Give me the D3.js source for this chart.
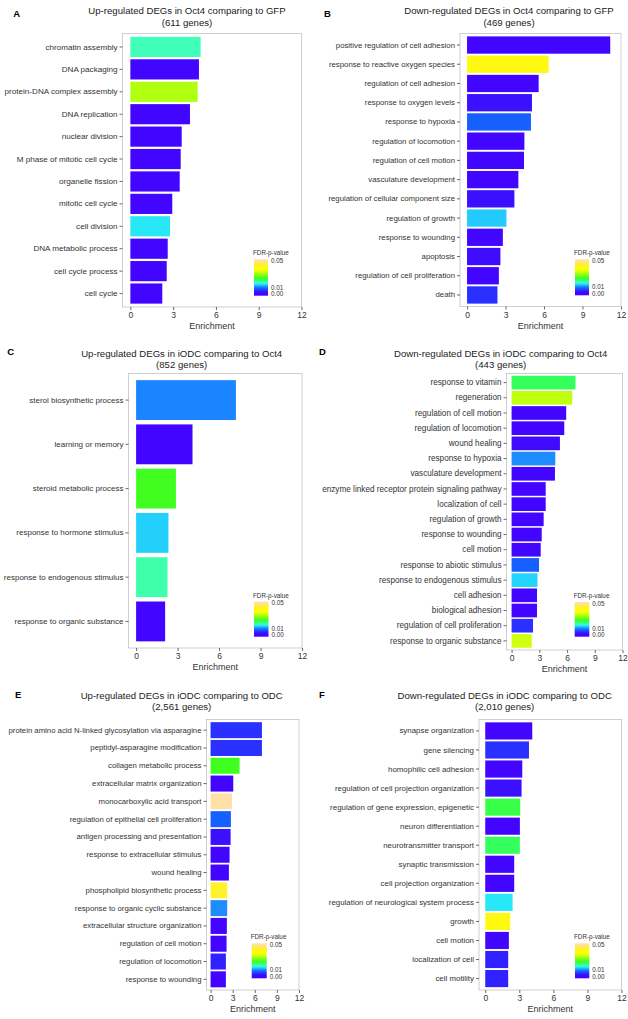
<!DOCTYPE html>
<html><head><meta charset="utf-8">
<script src="https://cdn.jsdelivr.net/npm/d3@7/dist/d3.min.js"></script>
<style>
body{margin:0;background:#fff}
svg{display:block;font-family:"Liberation Sans",Arial,sans-serif}
</style>
</head><body>
<svg id="chart" width="628" height="1019"></svg>
<script>
// ---------------- DATA ----------------
const termsA = ["chromatin assembly","DNA packaging","protein-DNA complex assembly","DNA replication","nuclear division","M phase of mitotic cell cycle","organelle fission","mitotic cell cycle","cell division","DNA metabolic process","cell cycle process","cell cycle"];
const enrichA = [4.93,4.81,4.72,4.18,3.60,3.53,3.46,2.94,2.78,2.62,2.55,2.24];
const fdrA = [0.017,0.001,0.031,0.001,0.001,0.001,0.001,0.001,0.015,0.001,0.001,0.001];
const titleA = ["Up-regulated DEGs in Oct4 comparing to GFP","(611 genes)"];

const termsB = ["positive regulation of cell adhesion","response to reactive oxygen species","regulation of cell adhesion","response to oxygen levels","response to hypoxia","regulation of locomotion","regulation of cell motion","vasculature development","regulation of cellular component size","regulation of growth","response to wounding","apoptosis","regulation of cell proliferation","death"];
const enrichB = [11.16,6.36,5.58,5.06,4.98,4.47,4.44,4.00,3.69,3.07,2.79,2.60,2.48,2.37];
const fdrB = [0.001,0.040,0.001,0.003,0.008,0.001,0.001,0.001,0.003,0.0135,0.001,0.002,0.001,0.005];
const titleB = ["Down-regulated DEGs in Oct4 comparing to GFP","(469 genes)"];

const termsC = ["sterol biosynthetic process","learning or memory","steroid metabolic process","response to hormone stimulus","response to endogenous stimulus","response to organic substance"];
const enrichC = [7.22,4.08,2.88,2.34,2.27,2.10];
const fdrC = [0.0105,0.001,0.024,0.0138,0.0175,0.001];
const titleC = ["Up-regulated DEGs in iODC comparing to Oct4","(852 genes)"];

const termsD = ["response to vitamin","regeneration","regulation of cell motion","regulation of locomotion","wound healing","response to hypoxia","vasculature development","enzyme linked receptor protein signaling pathway","localization of cell","regulation of growth","response to wounding","cell motion","response to abiotic stimulus","response to endogenous stimulus","cell adhesion","biological adhesion","regulation of cell proliferation","response to organic substance"];
const enrichD = [6.91,6.56,5.91,5.70,5.23,4.73,4.69,3.69,3.69,3.47,3.26,3.15,2.97,2.80,2.75,2.75,2.32,2.18];
const fdrD = [0.021,0.032,0.001,0.001,0.002,0.011,0.001,0.001,0.001,0.001,0.001,0.001,0.008,0.014,0.001,0.001,0.005,0.033];
const titleD = ["Down-regulated DEGs in iODC comparing to Oct4","(443 genes)"];

const termsE = ["protein amino acid N-linked glycosylation via asparagine","peptidyl-asparagine modification","collagen metabolic process","extracellular matrix organization","monocarboxylic acid transport","regulation of epithelial cell proliferation","antigen processing and presentation","response to extracellular stimulus","wound healing","phospholipid biosynthetic process","response to organic cyclic substance","extracellular structure organization","regulation of cell motion","regulation of locomotion","response to wounding"];
const enrichE = [6.97,6.97,3.94,3.08,2.90,2.76,2.72,2.58,2.49,2.26,2.26,2.21,2.17,2.08,2.08];
const fdrE = [0.005,0.005,0.024,0.001,0.050,0.008,0.003,0.001,0.001,0.044,0.011,0.001,0.001,0.004,0.001];
const titleE = ["Up-regulated DEGs in iODC comparing to ODC","(2,561 genes)"];

const termsF = ["synapse organization","gene silencing","homophilic cell adhesion","regulation of cell projection organization","regulation of gene expression, epigenetic","neuron differentiation","neurotransmitter transport","synaptic transmission","cell projection organization","regulation of neurological system process","growth","cell motion","localization of cell","cell motility"];
const enrichF = [4.14,3.85,3.26,3.20,3.08,3.05,3.05,2.55,2.55,2.41,2.20,2.08,2.02,2.02];
const fdrF = [0.001,0.005,0.001,0.003,0.022,0.001,0.021,0.001,0.001,0.015,0.040,0.001,0.004,0.004];
const titleF = ["Down-regulated DEGs in iODC comparing to ODC","(2,010 genes)"];

const xTicks = [0,3,6,9,12];
const legendTicks = [0,0.01,0.05];
const legendTitle = "FDR-p-value";
const xLabel = "Enrichment";

// ---------------- STYLE / LAYOUT ----------------
const colorDomain = [0,0.003,0.006,0.009,0.011,0.013,0.015,0.017,0.020,0.024,0.029,0.033,0.037,0.045,0.050];
const colorRange = ["#4600FF","#3A10FF","#2040FF","#1070FF","#1E8CFF","#20C0FF","#28E8F8","#40FFB8","#30FF70","#40FF20","#90FF10","#D0FF10","#FFFF00","#FFF030","#FFE0A8"];
const color = d3.scaleLinear().domain(colorDomain).range(colorRange).clamp(true);
const legendPos = d3.scaleLinear().domain([0,0.01,0.05]).range([0.05,0.23,0.96]);

const panels = [
  {letter:"A", terms:termsA, vals:enrichA, fdr:fdrA, title:titleA, fs:8.1,
   box:{l:122.5,r:301.5,t:33.5,b:307}, tx:187, ty:[13.5,26], lx:13.3, ly:17.3, leg:{x:254,y:259.3,w:14,h:36.4}},
  {letter:"B", terms:termsB, vals:enrichB, fdr:fdrB, title:titleB, fs:7.8,
   box:{l:460,r:621,t:33.5,b:306.5}, tx:509, ty:[13.5,26], lx:324, ly:16.7, leg:{x:575,y:259.3,w:14,h:36}},
  {letter:"C", terms:termsC, vals:enrichC, fdr:fdrC, title:titleC, fs:8.0,
   box:{l:128.5,r:302,t:373.5,b:648}, tx:181.7, ty:[356.8,367.6], lx:7.3, ly:355, leg:{x:254,y:601.7,w:14.5,h:35}},
  {letter:"D", terms:termsD, vals:enrichD, fdr:fdrD, title:titleD, fs:8.2,
   box:{l:506.5,r:622.5,t:373.5,b:650}, tx:500.7, ty:[356.8,367.6], lx:319, ly:355, leg:{x:574.7,y:602,w:14.6,h:34.7}},
  {letter:"E", terms:termsE, vals:enrichE, fdr:fdrE, title:titleE, fs:7.75,
   box:{l:206.5,r:299,t:719.5,b:990}, tx:181.7, ty:[698.5,710.2], lx:15, ly:698.3, leg:{x:251.7,y:943.3,w:15,h:35}},
  {letter:"F", terms:termsF, vals:enrichF, fdr:fdrF, title:titleF, fs:7.9,
   box:{l:479,r:621.5,t:719.5,b:990}, tx:504.7, ty:[698.5,710.2], lx:319, ly:698.3, leg:{x:575,y:943.3,w:14.3,h:35}}
];

const svg = d3.select("#chart");
svg.append("rect").attr("width",628).attr("height",1019).attr("fill","#fff");

// legend gradient (bottom -> top)
const defs = svg.append("defs");
const grad = defs.append("linearGradient").attr("id","fdrGrad")
  .attr("x1",0).attr("y1",1).attr("x2",0).attr("y2",0);
d3.range(0,1.0001,0.02).forEach(t=>{
  const f = Math.max(0, Math.min(0.05, legendPos.invert(t)));
  grad.append("stop").attr("offset",t).attr("stop-color",color(f));
});

const TXT = "#333";
const FONT = "Liberation Sans, Arial, sans-serif";

panels.forEach(p=>{
  const g = svg.append("g");
  const x = d3.scaleLinear().domain([-0.55,12]).range([p.box.l,p.box.r]);
  const y = d3.scaleBand().domain(p.terms).range([p.box.t,p.box.b]).paddingInner(0.1).paddingOuter(0.15);

  // bars
  g.selectAll("rect.bar").data(p.terms).join("rect").attr("class","bar")
    .attr("x",x(0)).attr("y",d=>y(d))
    .attr("width",(d,i)=>x(p.vals[i])-x(0)).attr("height",y.bandwidth())
    .attr("fill",(d,i)=>color(p.fdr[i]));

  // border
  g.append("rect").attr("x",p.box.l).attr("y",p.box.t)
    .attr("width",p.box.r-p.box.l).attr("height",p.box.b-p.box.t)
    .attr("fill","none").attr("stroke","#c4c4c4").attr("stroke-width",0.8);

  // y axis
  const ya = g.append("g").attr("transform",`translate(${p.box.l},0)`)
    .call(d3.axisLeft(y).tickSize(3).tickPadding(2));
  ya.select(".domain").remove();
  ya.selectAll("line").attr("stroke","#444").attr("stroke-width",0.8);
  ya.selectAll("text").attr("fill",TXT).style("font-size",p.fs+"px").style("font-family",FONT);

  // x axis
  const xa = g.append("g").attr("transform",`translate(0,${p.box.b})`)
    .call(d3.axisBottom(x).tickValues(xTicks).tickSize(3).tickPadding(2));
  xa.select(".domain").remove();
  xa.selectAll("line").attr("stroke","#444").attr("stroke-width",0.8);
  xa.selectAll("text").attr("fill",TXT).style("font-size","8.5px").style("font-family",FONT);

  g.append("text").attr("x",(p.box.l+p.box.r)/2).attr("y",p.box.b+22)
    .attr("text-anchor","middle").attr("fill",TXT).style("font-size","9px").text(xLabel);

  // titles
  p.title.forEach((t,i)=>{
    g.append("text").attr("x",p.tx).attr("y",p.ty[i]).attr("text-anchor","middle")
      .attr("fill","#222").style("font-size","9.6px").text(t);
  });
  g.append("text").attr("x",p.lx).attr("y",p.ly).attr("fill","#000")
    .style("font-size","9.5px").style("font-weight","bold").text(p.letter);

  // legend
  const L = p.leg;
  g.append("text").attr("x",L.x-1).attr("y",L.y-4).attr("fill",TXT)
    .style("font-size","6.3px").text(legendTitle);
  g.append("rect").attr("x",L.x).attr("y",L.y).attr("width",L.w).attr("height",L.h)
    .attr("fill","url(#fdrGrad)");
  legendTicks.forEach(v=>{
    g.append("text").attr("x",L.x+L.w+3).attr("y",L.y+L.h-legendPos(v)*L.h)
      .attr("dy","0.35em").attr("fill",TXT).style("font-size","6.3px").text(d3.format(".2f")(v));
  });
});
</script>
</body></html>
